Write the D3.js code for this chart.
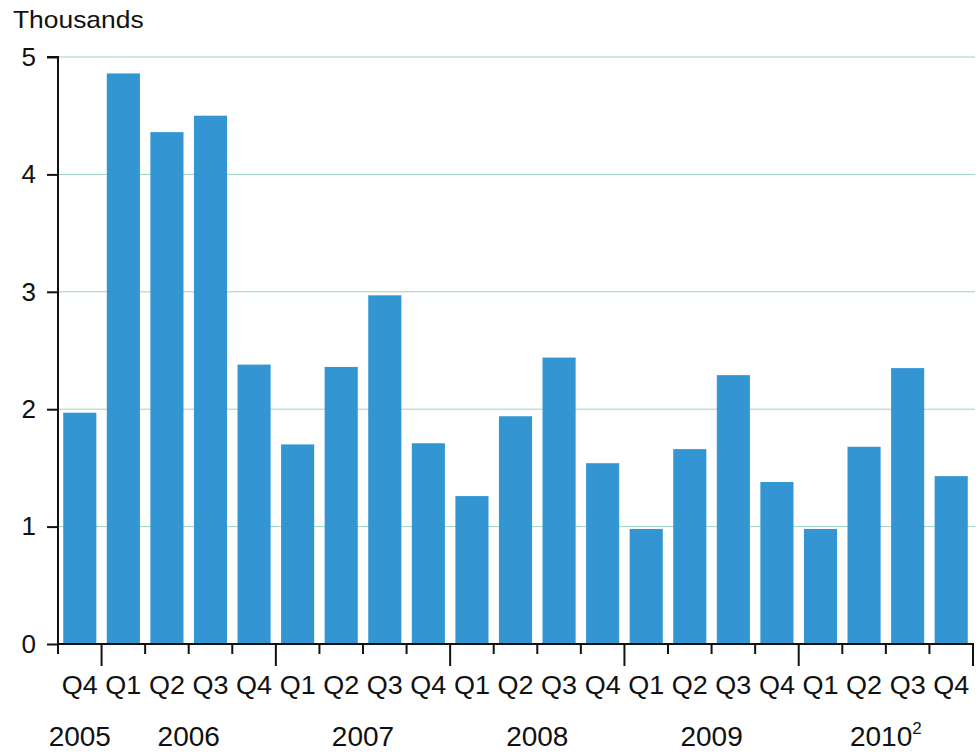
<!DOCTYPE html>
<html>
<head>
<meta charset="utf-8">
<script src="https://cdn.jsdelivr.net/npm/d3@7/dist/d3.min.js"></script>
<style>
  html, body { margin: 0; padding: 0; background: #ffffff; }
  svg { display: block; }
  text { font-family: "Liberation Sans", Arial, sans-serif; fill: #111; }
</style>
</head>
<body>
<svg id="chart" width="976" height="755"></svg>
<script>
// ---- data ----
const quarters = ["Q4","Q1","Q2","Q3","Q4","Q1","Q2","Q3","Q4","Q1","Q2","Q3","Q4","Q1","Q2","Q3","Q4","Q1","Q2","Q3","Q4"];
const years = ["2005","2006","2006","2006","2006","2007","2007","2007","2007","2008","2008","2008","2008","2009","2009","2009","2009","2010","2010","2010","2010"];
const values = [1.97, 4.86, 4.36, 4.50, 2.38, 1.70, 2.36, 2.97, 1.71, 1.26, 1.94, 2.44, 1.54, 0.98, 1.66, 2.29, 1.38, 0.98, 1.68, 2.35, 1.43];
const yearLabels = ["2005","2006","2007","2008","2009","2010"];
const yearNotes = ["","","","","","2"];
const yTicks = [0, 1, 2, 3, 4, 5];
const yTitle = "Thousands";

// ---- layout ----
const svg = d3.select("#chart");
const M = { left: 58, right: 973, top: 57, bottom: 644 };
const keys = d3.range(values.length);

const x = d3.scaleBand().domain(keys).range([M.left, M.right]).paddingInner(0.24).paddingOuter(0.12);
const y = d3.scaleLinear().domain([0, 5]).range([M.bottom, M.top]);
const step = x.step();
const boundary = i => M.left + i * step;

// gridlines
svg.append("g").selectAll("line").data(yTicks.filter(d => d > 0)).join("line")
  .attr("x1", M.left).attr("x2", 975)
  .attr("y1", d => y(d)).attr("y2", d => y(d))
  .attr("stroke", "#9fd4b9").attr("stroke-width", 1);

// bars
svg.append("g").selectAll("rect").data(keys).join("rect")
  .attr("x", i => x(i)).attr("width", x.bandwidth())
  .attr("y", i => y(values[i])).attr("height", i => y(0) - y(values[i]))
  .attr("fill", "#3395d2");

// y axis
const yAxis = d3.axisLeft(y).tickValues(yTicks).tickSize(11).tickPadding(11).tickFormat(d3.format("d"));
const gy = svg.append("g").attr("transform", `translate(${M.left},0)`).call(yAxis);
gy.select(".domain").attr("stroke", "#111").attr("stroke-width", 2).attr("d", `M-11,${M.top}H0V${M.bottom}`);
gy.selectAll(".tick line").attr("stroke", "#111").attr("stroke-width", 2);
gy.selectAll(".tick text").attr("font-size", 26).attr("fill", "#111").attr("font-family", "Liberation Sans, Arial, sans-serif");

// x axis line
svg.append("line").attr("x1", M.left - 1).attr("x2", M.right + 1).attr("y1", M.bottom).attr("y2", M.bottom)
  .attr("stroke", "#111").attr("stroke-width", 2);

// x ticks at band boundaries; long at year boundaries
const bounds = d3.range(values.length + 1);
svg.append("g").selectAll("line").data(bounds).join("line")
  .attr("x1", i => boundary(i)).attr("x2", i => boundary(i))
  .attr("y1", M.bottom)
  .attr("y2", i => (i > 0 && (i === values.length || years[i] !== years[i - 1])) ? M.bottom + 22 : M.bottom + 10)
  .attr("stroke", "#111").attr("stroke-width", 2);

// quarter labels
svg.append("g").selectAll("text").data(keys).join("text")
  .attr("transform", i => `translate(${x(i) + x.bandwidth() / 2},694) scale(1.08,1)`)
  .attr("text-anchor", "middle").attr("font-size", 25)
  .text(i => quarters[i]);

// year labels centered on their quarters
const yl = svg.append("g").selectAll("text").data(yearLabels).join("text")
  .attr("x", (yr) => {
    const idx = keys.filter(i => years[i] === yr);
    return (boundary(idx[0]) + boundary(idx[idx.length - 1] + 1)) / 2;
  })
  .attr("y", 746).attr("text-anchor", "middle").attr("font-size", 28);
yl.append("tspan").text(d => d);
yl.append("tspan").attr("font-size", 17).attr("dy", -12).text((d, i) => yearNotes[i]);

// title
svg.append("text").attr("transform", "translate(13,28) scale(1.1,1)").attr("font-size", 24).text(yTitle);
</script>
</body>
</html>
